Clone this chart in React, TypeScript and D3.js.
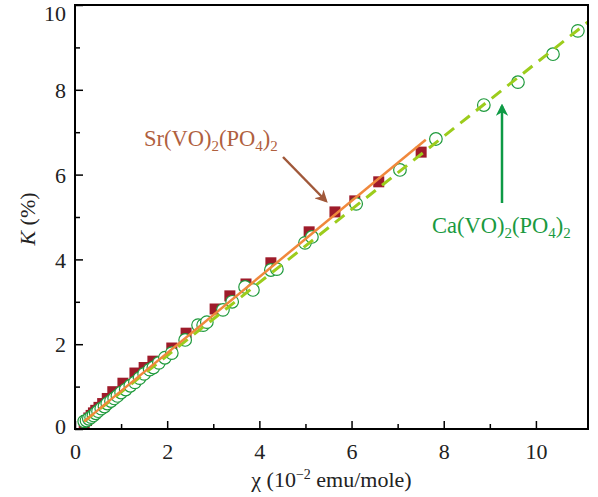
import React, { useEffect, useRef } from "react";
import * as d3 from "d3";

// Sr(VO)2(PO4)2 — filled squares
const srChi = [0.2, 0.25, 0.3, 0.35, 0.4, 0.45, 0.52, 0.6, 0.7, 0.82, 1.04, 1.3, 1.5, 1.69, 2.1, 2.41, 3.04, 3.36, 3.71, 4.25, 5.08, 5.64, 6.07, 6.59, 7.51];
const srK = [0.14, 0.2, 0.26, 0.32, 0.38, 0.44, 0.51, 0.6, 0.72, 0.88, 1.08, 1.32, 1.45, 1.6, 1.91, 2.26, 2.83, 3.14, 3.42, 3.92, 4.65, 5.12, 5.38, 5.83, 6.53];

// Ca(VO)2(PO4)2 — open circles
const caChi = [0.2, 0.25, 0.3, 0.35, 0.4, 0.45, 0.5, 0.57, 0.64, 0.7, 0.78, 0.85, 0.92, 1.0, 1.1, 1.2, 1.3, 1.4, 1.5, 1.62, 1.7, 1.82, 1.95, 2.1, 2.39, 2.67, 2.78, 2.86, 3.21, 3.41, 3.69, 3.86, 4.25, 4.38, 4.99, 5.14, 6.1, 7.05, 7.83, 8.87, 9.61, 10.37, 10.91];
const caK = [0.18, 0.2, 0.24, 0.28, 0.32, 0.37, 0.42, 0.48, 0.53, 0.6, 0.66, 0.72, 0.78, 0.86, 0.93, 1.02, 1.1, 1.2, 1.3, 1.4, 1.45, 1.56, 1.68, 1.79, 2.1, 2.45, 2.45, 2.52, 2.81, 3.0, 3.35, 3.28, 3.75, 3.77, 4.39, 4.53, 5.31, 6.11, 6.84, 7.64, 8.18, 8.84, 9.39];

// linear fits (end points)
const srFitChi = [0.2, 7.61];
const srFitK = [0.18, 6.82];
const caFitChi = [0.2, 11.13];
const caFitK = [0.18, 9.6];

const xTicks = [0, 2, 4, 6, 8, 10];
const yTicks = [0, 2, 4, 6, 8, 10];

const W = 598;
const H = 497;
const m = { left: 75, right: 10, top: 5, bottom: 68 };

export default function App() {
  const ref = useRef<SVGSVGElement>(null);

  useEffect(() => {
    const svg = d3.select(ref.current);
    svg.selectAll("*").remove();

    const x = d3.scaleLinear().domain([0, 11.13]).range([m.left, W - m.right]);
    const y = d3.scaleLinear().domain([0, 10]).range([H - m.bottom, m.top]);
    const font = "'Liberation Serif', 'Times New Roman', serif";

    svg.append("clipPath").attr("id", "plot")
      .append("rect")
      .attr("x", m.left).attr("y", m.top)
      .attr("width", W - m.left - m.right)
      .attr("height", H - m.top - m.bottom);

    const g = svg.append("g").attr("clip-path", "url(#plot)");

    // squares
    const sq = 11;
    g.selectAll("rect.sr")
      .data(srChi)
      .enter()
      .append("rect")
      .attr("x", (d) => x(d) - sq / 2)
      .attr("y", (d, i) => y(srK[i]) - sq / 2)
      .attr("width", sq)
      .attr("height", sq)
      .attr("fill", "#9e1b2a");

    // circles
    g.selectAll("circle.ca")
      .data(caChi)
      .enter()
      .append("circle")
      .attr("cx", (d) => x(d))
      .attr("cy", (d, i) => y(caK[i]))
      .attr("r", 6.3)
      .attr("fill", "white")
      .attr("stroke", "#1f9a3c")
      .attr("stroke-width", 1.2);

    // fit lines
    g.append("path")
      .attr("d", d3.line()(caFitChi.map((d, i) => [x(d), y(caFitK[i])])))
      .attr("stroke", "#9ccc1c")
      .attr("stroke-width", 3)
      .attr("stroke-dasharray", "12,8")
      .attr("fill", "none");

    g.append("path")
      .attr("d", d3.line()(srFitChi.map((d, i) => [x(d), y(srFitK[i])])))
      .attr("stroke", "#f0883c")
      .attr("stroke-width", 2.5)
      .attr("fill", "none");

    // axes, ticks pointing inward
    const xAxis = svg.append("g").attr("transform", `translate(0,${H - m.bottom})`);
    xAxis.call(d3.axisBottom(x).tickValues(d3.range(0, 11, 1)).tickSize(0).tickFormat(() => ""));
    xAxis.select(".domain").remove();
    xAxis.selectAll(".tick line")
      .attr("y2", (d: any) => (d % 2 === 0 ? -8 : -5))
      .attr("stroke", "#000").attr("stroke-width", 1.5);
    xAxis.selectAll(".tick")
      .filter((d: any) => xTicks.includes(d))
      .append("text")
      .attr("y", 30)
      .attr("fill", "#222")
      .attr("text-anchor", "middle")
      .style("font-family", font)
      .style("font-size", "22px")
      .text((d: any) => d);

    const yAxis = svg.append("g").attr("transform", `translate(${m.left},0)`);
    yAxis.call(d3.axisLeft(y).tickValues(d3.range(0, 11, 1)).tickSize(0).tickFormat(() => ""));
    yAxis.select(".domain").remove();
    yAxis.selectAll(".tick line")
      .attr("x2", (d: any) => (d % 2 === 0 ? 8 : 5))
      .attr("stroke", "#000").attr("stroke-width", 1.5);
    yAxis.selectAll(".tick")
      .filter((d: any) => yTicks.includes(d))
      .append("text")
      .attr("x", -9)
      .attr("dy", (d: any) => (d === 10 ? "0.7em" : d === 0 ? "0.2em" : "0.35em"))
      .attr("fill", "#222")
      .attr("text-anchor", "end")
      .style("font-family", font)
      .style("font-size", "22px")
      .text((d: any) => d);

    svg.append("rect")
      .attr("x", m.left).attr("y", m.top)
      .attr("width", W - m.left - m.right)
      .attr("height", H - m.top - m.bottom)
      .attr("fill", "none")
      .attr("stroke", "#000")
      .attr("stroke-width", 2);

    // axis titles
    const yt = svg.append("text")
      .attr("transform", `translate(35,${(m.top + H - m.bottom) / 2 + 2}) rotate(-90)`)
      .attr("text-anchor", "middle")
      .attr("fill", "#222")
      .style("font-family", font)
      .style("font-size", "22px");
    yt.append("tspan").style("font-style", "italic").text("K");
    yt.append("tspan").text(" (%)");

    const xt = svg.append("text")
      .attr("x", (m.left + W - m.right) / 2)
      .attr("y", 487)
      .attr("text-anchor", "middle")
      .attr("fill", "#222")
      .style("font-family", font)
      .style("font-size", "22px");
    xt.append("tspan").text("χ (10");
    xt.append("tspan").attr("dy", -8).style("font-size", "14px").text("−2");
    xt.append("tspan").attr("dy", 8).text(" emu/mole)");

    // formula labels
    const formula = (px: number, py: number, color: string, metal: string) => {
      const t = svg.append("text")
        .attr("x", px).attr("y", py)
        .attr("fill", color)
        .style("font-family", font)
        .style("font-size", "22.5px");
      t.append("tspan").text(`${metal}(VO)`);
      t.append("tspan").attr("dy", 5).style("font-size", "15px").text("2");
      t.append("tspan").attr("dy", -5).text("(PO");
      t.append("tspan").attr("dy", 5).style("font-size", "15px").text("4");
      t.append("tspan").attr("dy", -5).text(")");
      t.append("tspan").attr("dy", 5).style("font-size", "15px").text("2");
    };
    formula(144, 146, "#b0603e", "Sr");
    formula(432, 233, "#1a9a3f", "Ca");

    // arrows
    const defs = svg.append("defs");
    const marker = (id: string, color: string) =>
      defs.append("marker")
        .attr("id", id)
        .attr("viewBox", "0 0 10 10")
        .attr("refX", 8).attr("refY", 5)
        .attr("markerWidth", 5).attr("markerHeight", 5)
        .attr("orient", "auto")
        .append("path")
        .attr("d", "M0,0 L10,5 L0,10 L3,5 Z")
        .attr("fill", color);
    marker("arrBrown", "#a0583a");
    marker("arrGreen", "#0e9a45");

    svg.append("line")
      .attr("x1", 283).attr("y1", 157).attr("x2", 326).attr("y2", 201)
      .attr("stroke", "#a0583a").attr("stroke-width", 2.5)
      .attr("marker-end", "url(#arrBrown)");
    svg.append("line")
      .attr("x1", 502).attr("y1", 203).attr("x2", 502).attr("y2", 106)
      .attr("stroke", "#0e9a45").attr("stroke-width", 2.5)
      .attr("marker-end", "url(#arrGreen)");
  }, []);

  return (
    <svg
      ref={ref}
      width={W}
      height={H}
      style={{ position: "absolute", left: 0, top: 0, background: "white" }}
    />
  );
}
